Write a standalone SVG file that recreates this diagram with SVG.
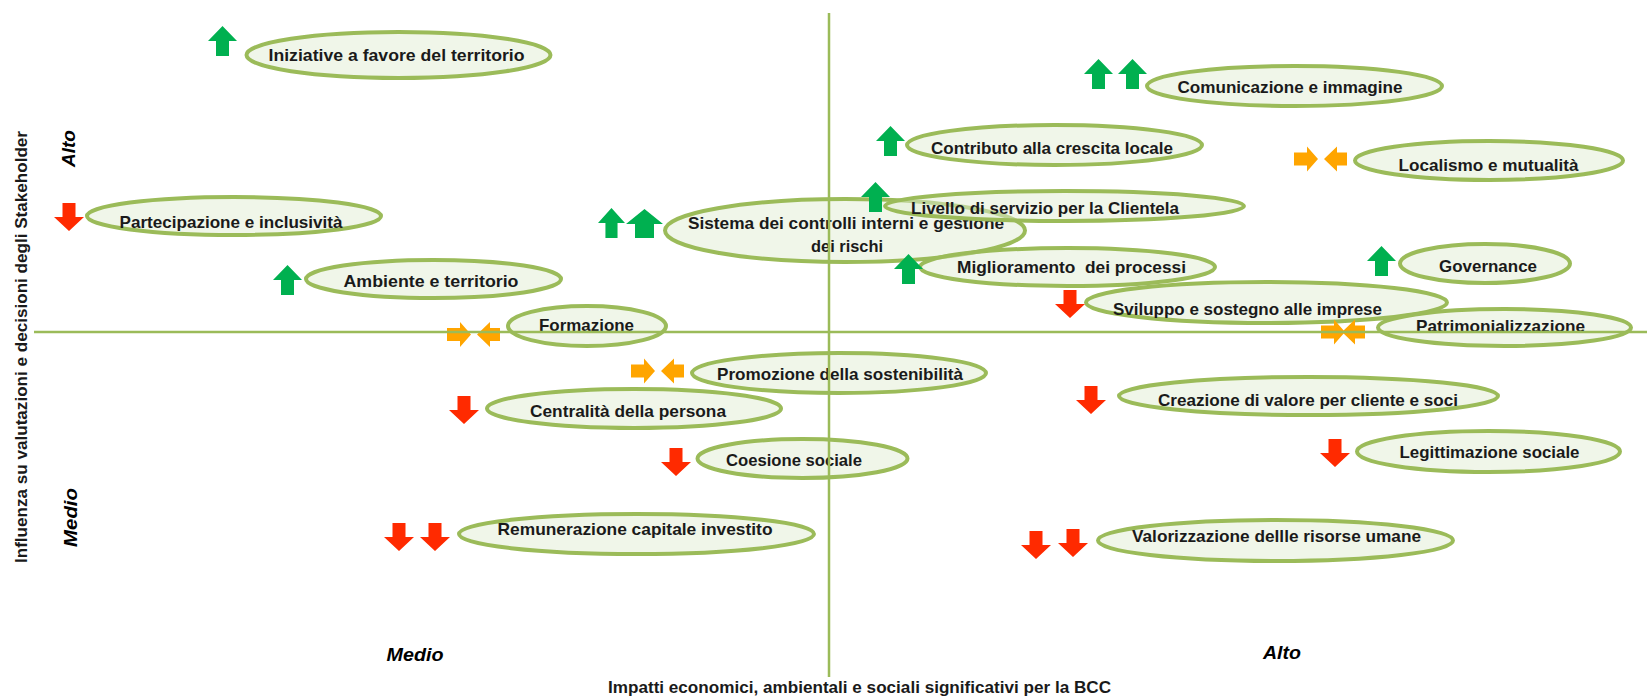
<svg xmlns="http://www.w3.org/2000/svg" xmlns:xlink="http://www.w3.org/1999/xlink" width="1647" height="696" viewBox="0 0 1647 696">
<style>
.n{fill:#E2EDD3;fill-opacity:0.5;stroke:#9BBB59;stroke-width:4}
.t{font-family:"Liberation Sans",Arial,sans-serif;font-weight:bold;font-size:17px;fill:#1a1a1a;text-anchor:middle}
.ax{font-family:"Liberation Sans",Arial,sans-serif;font-weight:bold;font-style:italic;font-size:19px;fill:#000;text-anchor:middle}
.axis{stroke:#9BBB59;stroke-width:2.5;fill:none}
</style>
<defs>
<path id="up" d="M14.5,0 L29,15 L21,15 L21,30 L8,30 L8,15 L0,15 Z" fill="#00B050"/>
<path id="upw" d="M18.5,0 L37,15 L28,15 L28,29 L9,29 L9,15 L0,15 Z" fill="#00B050"/>
<path id="down" d="M8.5,0 L21.5,0 L21.5,14 L30,14 L15,28 L0,14 L8.5,14 Z" fill="#FF2A00"/>
<path id="right" d="M0,6 L13,6 L13,0 L24,12.5 L13,25 L13,19 L0,19 Z" fill="#FFA500"/>
<path id="left" d="M23,6 L13,6 L13,0 L0,12.5 L13,25 L13,19 L23,19 Z" fill="#FFA500"/>
</defs>
<rect width="1647" height="696" fill="#fff"/>

<g id="n-iniziative">
<ellipse class="n" cx="398.5" cy="55" rx="152" ry="23"/>
<use href="#up" x="208" y="26"/>
<text class="t" x="396.5" y="61" textLength="256" lengthAdjust="spacingAndGlyphs">Iniziative a favore del territorio</text>
</g>
<g id="n-partecipazione">
<ellipse class="n" cx="234" cy="216" rx="147" ry="19"/>
<use href="#down" x="54" y="203"/>
<text class="t" x="231" y="228" textLength="223" lengthAdjust="spacingAndGlyphs">Partecipazione e inclusività</text>
</g>
<g id="n-ambiente">
<ellipse class="n" cx="433.5" cy="279" rx="127.5" ry="19"/>
<use href="#up" x="273" y="265"/>
<text class="t" x="431" y="287" textLength="175" lengthAdjust="spacingAndGlyphs">Ambiente e territorio</text>
</g>
<g id="n-formazione">
<ellipse class="n" cx="587" cy="326" rx="79" ry="20"/>
<use href="#right" x="447" y="322"/>
<use href="#left" x="477" y="322"/>
<text class="t" x="586.5" y="331" textLength="95" lengthAdjust="spacingAndGlyphs">Formazione</text>
</g>
<g id="n-sistema">
<ellipse class="n" cx="845" cy="230.5" rx="180" ry="31.5"/>
<use href="#up" x="598" y="208" transform="translate(598 208) scale(0.93 1) translate(-598 -208)"/>
<use href="#upw" x="626" y="209"/>
<text class="t" x="846" y="229" textLength="316" lengthAdjust="spacingAndGlyphs">Sistema dei controlli interni e gestione</text>
<text class="t" x="847" y="252" textLength="72" lengthAdjust="spacingAndGlyphs">dei rischi</text>
</g>
<g id="n-contributo">
<ellipse class="n" cx="1054.5" cy="145" rx="147.5" ry="20"/>
<use href="#up" x="876" y="126"/>
<text class="t" x="1052" y="154" textLength="242" lengthAdjust="spacingAndGlyphs">Contributo alla crescita locale</text>
</g>
<g id="n-livello">
<ellipse class="n" cx="1064.5" cy="206" rx="179.5" ry="15"/>
<use href="#up" x="861" y="182"/>
<text class="t" x="1045" y="214" textLength="268" lengthAdjust="spacingAndGlyphs">Livello di servizio per la Clientela</text>
</g>
<g id="n-miglioramento">
<ellipse class="n" cx="1067.5" cy="267" rx="147.5" ry="19"/>
<use href="#up" x="894" y="254"/>
<text class="t" x="1071.5" y="273" textLength="229" lengthAdjust="spacingAndGlyphs" xml:space="preserve">Miglioramento  dei processi</text>
</g>
<g id="n-comunicazione">
<ellipse class="n" cx="1294.5" cy="86" rx="147.5" ry="20"/>
<use href="#up" x="1084" y="59"/>
<use href="#up" x="1118" y="59"/>
<text class="t" x="1290" y="93" textLength="225" lengthAdjust="spacingAndGlyphs">Comunicazione e immagine</text>
</g>
<g id="n-localismo">
<ellipse class="n" cx="1489" cy="160.5" rx="134" ry="19.5"/>
<use href="#right" x="1294" y="146.5"/>
<use href="#left" x="1324" y="146.5"/>
<text class="t" x="1488.5" y="171" textLength="180" lengthAdjust="spacingAndGlyphs">Localismo e mutualità</text>
</g>
<g id="n-governance">
<ellipse class="n" cx="1485" cy="263.5" rx="85" ry="19.5"/>
<use href="#up" x="1367" y="246"/>
<text class="t" x="1488" y="272" textLength="98" lengthAdjust="spacingAndGlyphs">Governance</text>
</g>
<g id="n-sviluppo">
<ellipse class="n" cx="1266.5" cy="302.5" rx="180.5" ry="20.5"/>
<use href="#down" x="1055" y="290"/>
<text class="t" x="1247.5" y="315" textLength="269" lengthAdjust="spacingAndGlyphs">Sviluppo e sostegno alle imprese</text>
</g>
<g id="n-patrimonializzazione">
<ellipse class="n" cx="1504.5" cy="327.5" rx="126.5" ry="18.5"/>
<use href="#right" x="1321" y="319.5"/>
<use href="#left" x="1342" y="319.5"/>
<text class="t" x="1500.5" y="332" textLength="169" lengthAdjust="spacingAndGlyphs">Patrimonializzazione</text>
</g>
<g id="n-promozione">
<ellipse class="n" cx="839" cy="373" rx="147" ry="20"/>
<use href="#right" x="631" y="358.5"/>
<use href="#left" x="661" y="358.5"/>
<text class="t" x="840" y="380" textLength="246" lengthAdjust="spacingAndGlyphs">Promozione della sostenibilità</text>
</g>
<g id="n-centralita">
<ellipse class="n" cx="634" cy="408.5" rx="147" ry="19.5"/>
<use href="#down" x="449" y="396"/>
<text class="t" x="628" y="417" textLength="196" lengthAdjust="spacingAndGlyphs">Centralità della persona</text>
</g>
<g id="n-coesione">
<ellipse class="n" cx="802.5" cy="458.5" rx="105" ry="19.5"/>
<use href="#down" x="661" y="448"/>
<text class="t" x="794" y="466" textLength="136" lengthAdjust="spacingAndGlyphs">Coesione sociale</text>
</g>
<g id="n-remunerazione">
<ellipse class="n" cx="636.5" cy="534" rx="177.5" ry="20"/>
<use href="#down" x="384" y="523"/>
<use href="#down" x="420" y="523"/>
<text class="t" x="635" y="535" textLength="275" lengthAdjust="spacingAndGlyphs">Remunerazione capitale investito</text>
</g>
<g id="n-creazione">
<ellipse class="n" cx="1308.5" cy="396" rx="189.5" ry="19"/>
<use href="#down" x="1076" y="386"/>
<text class="t" x="1308" y="406" textLength="300" lengthAdjust="spacingAndGlyphs">Creazione di valore per cliente e soci</text>
</g>
<g id="n-legittimazione">
<ellipse class="n" cx="1488.5" cy="451.5" rx="131.5" ry="20.5"/>
<use href="#down" x="1320" y="439"/>
<text class="t" x="1489.5" y="458" textLength="180" lengthAdjust="spacingAndGlyphs">Legittimazione sociale</text>
</g>
<g id="n-valorizzazione">
<ellipse class="n" cx="1275.5" cy="540.5" rx="177.5" ry="20.5"/>
<use href="#down" x="1021" y="531"/>
<use href="#down" x="1058" y="529"/>
<text class="t" x="1276.5" y="542" textLength="289" lengthAdjust="spacingAndGlyphs">Valorizzazione dellle risorse umane</text>
</g>

<g id="connectors">
<line class="axis" x1="34" y1="332" x2="1647" y2="332"/>
<line class="axis" x1="829" y1="13" x2="829" y2="677"/>
</g>

<g id="labels">
<text class="ax" x="415" y="661" textLength="57" lengthAdjust="spacingAndGlyphs">Medio</text>
<text class="ax" x="1282" y="659" textLength="38" lengthAdjust="spacingAndGlyphs">Alto</text>
<text class="ax" transform="translate(75 148.5) rotate(-90)" x="0" y="0" textLength="37" lengthAdjust="spacingAndGlyphs">Alto</text>
<text class="ax" transform="translate(77 517.5) rotate(-90)" x="0" y="0" textLength="59" lengthAdjust="spacingAndGlyphs">Medio</text>
<text class="t" transform="translate(27 347) rotate(-90)" x="0" y="0" textLength="432" lengthAdjust="spacingAndGlyphs">Influenza su valutazioni e decisioni degli Stakeholder</text>
<text class="t" x="608" y="693" style="text-anchor:start" textLength="503" lengthAdjust="spacingAndGlyphs">Impatti economici, ambientali e sociali significativi per la BCC</text>
</g>
</svg>
